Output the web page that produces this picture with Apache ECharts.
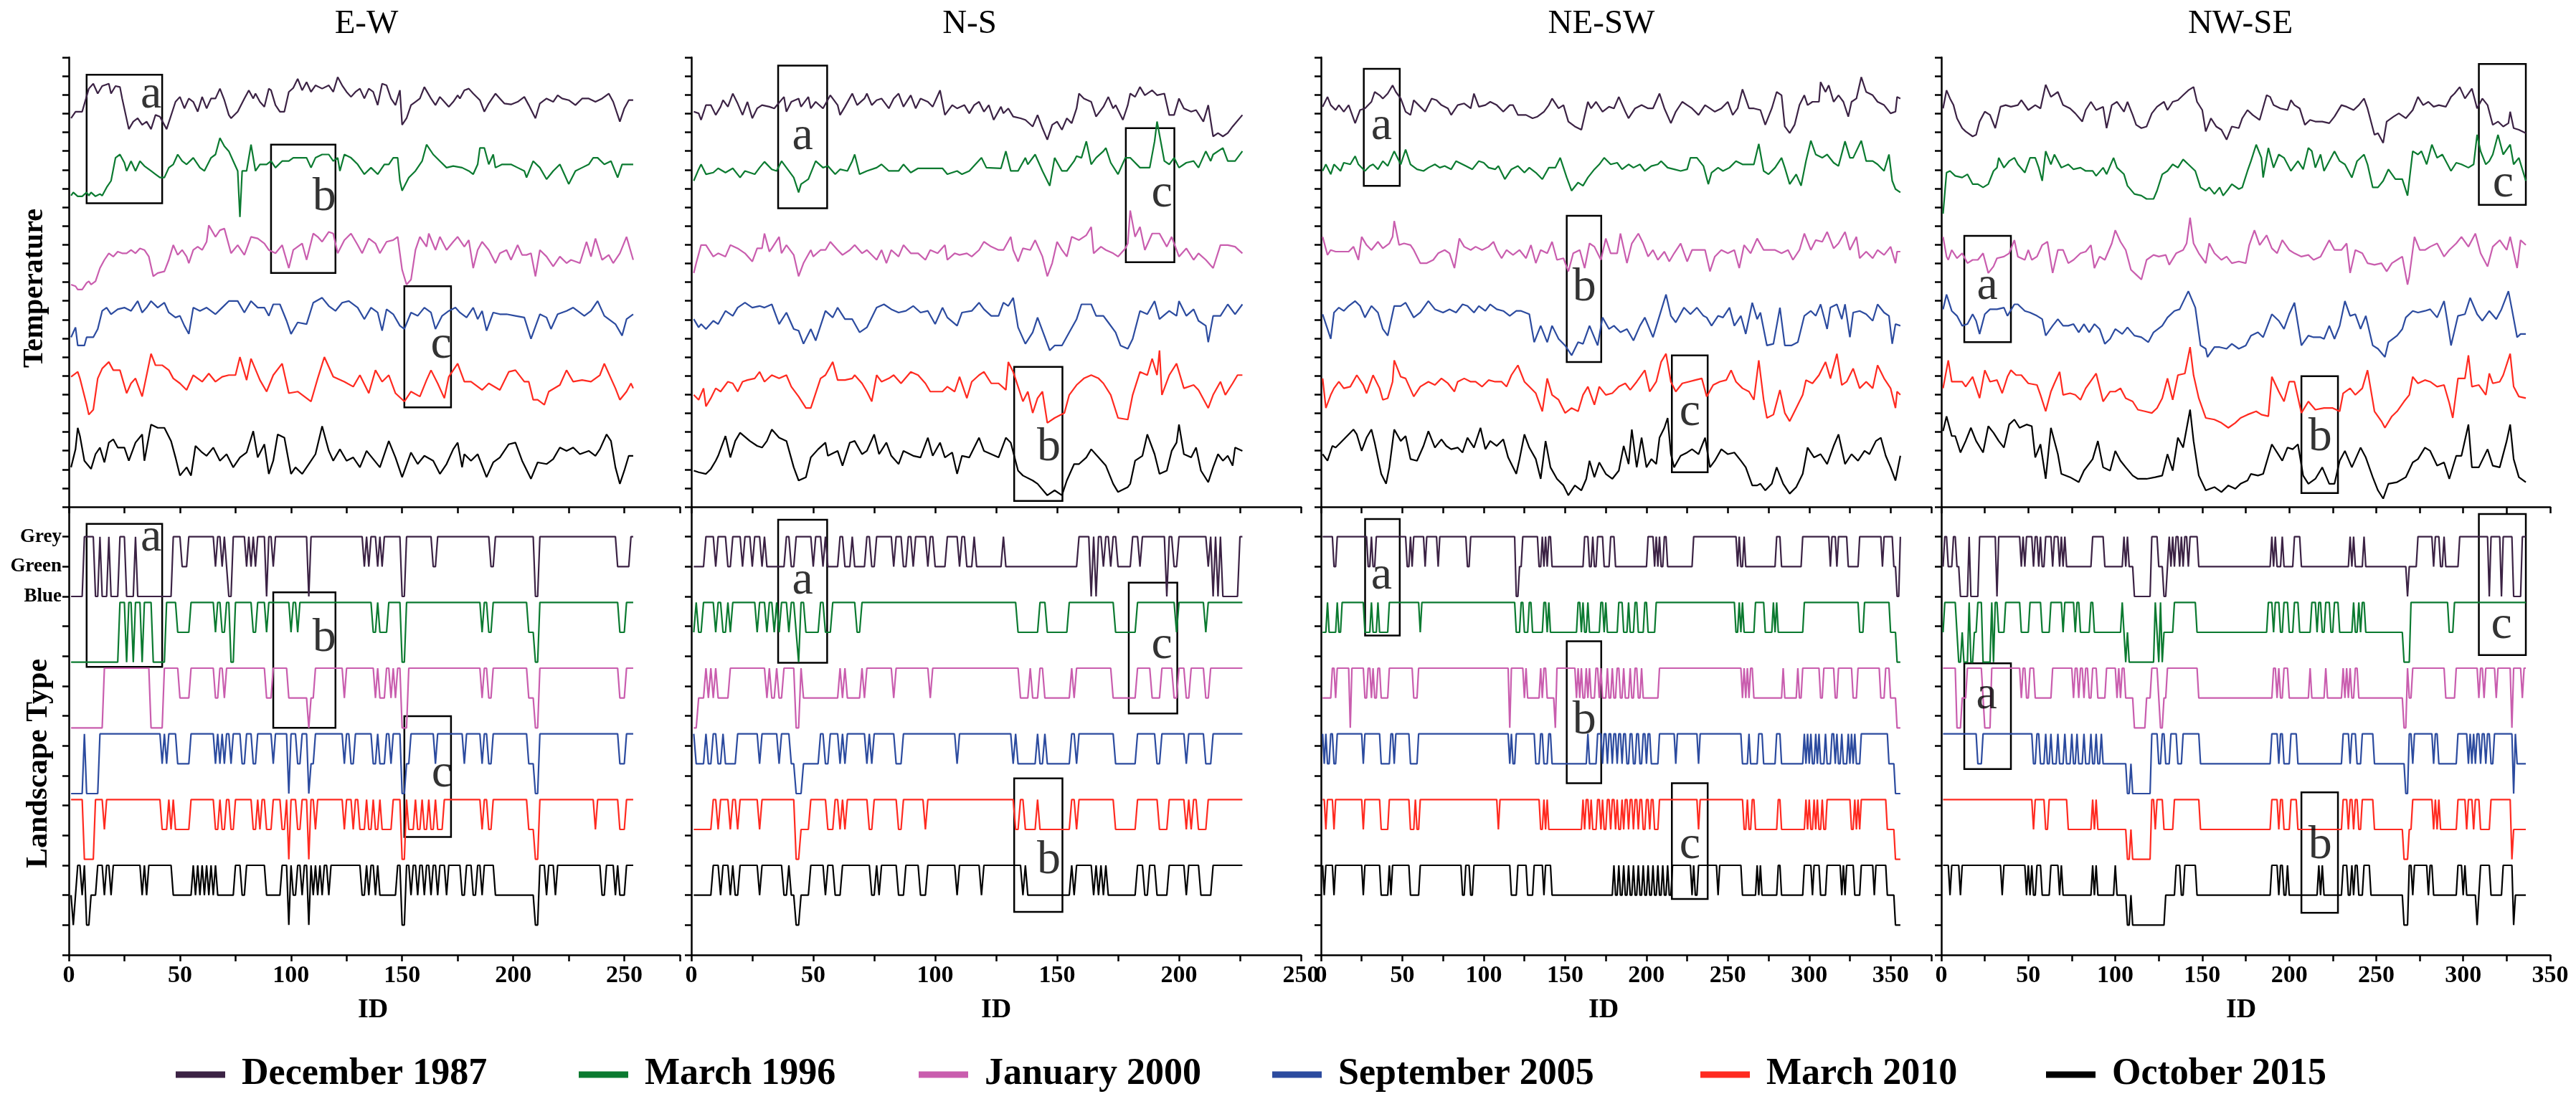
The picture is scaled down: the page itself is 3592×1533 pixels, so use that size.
<!DOCTYPE html>
<html>
<head>
<meta charset="utf-8">
<title>Temperature and landscape type along four transects</title>
<script src="https://cdn.jsdelivr.net/npm/echarts/dist/echarts.min.js"></script>
<style>
  html, body { margin: 0; padding: 0; background: #fff; }
  #chart { width: 3592px; height: 1533px; }
</style>
</head>
<body>
<div id="chart"></div>
<script>
var dates = ['December 1987', 'March 1996', 'January 2000', 'September 2005', 'March 2010', 'October 2015'];
var directions = ['E-W', 'N-S', 'NE-SW', 'NW-SE'];
var landTypes = ['Blue', 'Green', 'Grey'];
var idMax = [275, 250, 375, 350];
var lastId = [254, 226, 356, 336];

// temperature profiles, [ID, value] (stacked, arbitrary units)
var ewT87 = [[1,1180],[3,1200],[6,1200],[9,1270],[11,1285],[13,1255],[15,1278],[18,1285],[19,1255],[21,1278],[23,1275],[24,1240],[27,1147],[29,1170],[31,1180],[33,1160],[35,1170],[37,1147],[39,1190],[41,1185],[44,1147],[48,1230],[50,1245],[52,1210],[54,1240],[56,1230],[58,1200],[60,1245],[62,1210],[64,1240],[66,1240],[68,1270],[70,1235],[72,1190],[73,1180],[76,1200],[79,1240],[81,1265],[83,1240],[84,1255],[86,1230],[88,1215],[90,1270],[91,1265],[93,1220],[95,1200],[97,1200],[99,1260],[101,1272],[103,1300],[105,1265],[107,1290],[109,1260],[111,1280],[114,1270],[117,1280],[119,1260],[121,1305],[123,1280],[125,1260],[127,1245],[129,1260],[131,1270],[133,1240],[135,1270],[137,1260],[139,1220],[141,1285],[143,1280],[145,1240],[147,1220],[149,1265],[150,1160],[152,1180],[154,1220],[156,1230],[158,1240],[160,1275],[163,1240],[165,1220],[167,1245],[169,1230],[171,1215],[173,1230],[175,1250],[176,1240],[178,1265],[180,1270],[182,1255],[185,1235],[187,1200],[189,1225],[192,1255],[194,1240],[196,1225],[199,1222],[202,1230],[205,1245],[207,1220],[210,1180],[212,1225],[215,1240],[218,1230],[220,1250],[222,1240],[225,1235],[228,1220],[231,1240],[234,1240],[237,1230],[240,1240],[243,1255],[245,1230],[248,1170],[250,1210],[252,1235],[254,1235]];
var ewT96 = [[1,945],[2,955],[4,943],[6,943],[8,955],[9,945],[10,955],[12,943],[14,950],[15,945],[17,970],[19,990],[21,1060],[23,1070],[25,1045],[26,1020],[28,1050],[30,1020],[32,1050],[34,1035],[37,1020],[39,1010],[41,1000],[43,1000],[45,1030],[47,1040],[49,1070],[51,1050],[53,1040],[56,1060],[59,1030],[61,1020],[64,1060],[66,1070],[68,1120],[70,1095],[72,1080],[74,1050],[76,1020],[77,880],[78,1020],[80,1020],[82,1100],[84,1020],[86,1040],[89,1040],[91,1050],[93,1030],[96,1050],[99,1050],[101,1060],[103,1060],[107,1060],[109,1030],[111,1060],[114,1070],[117,1070],[119,1050],[121,1060],[122,1020],[124,1070],[127,1060],[130,1040],[133,1010],[136,1030],[139,1010],[142,1040],[144,1040],[146,1060],[148,1060],[149,990],[150,960],[153,1000],[156,1020],[159,1050],[161,1100],[164,1070],[167,1050],[170,1030],[173,1035],[177,1030],[180,1020],[182,1010],[184,1040],[185,1090],[187,1090],[189,1040],[191,1070],[192,1030],[195,1040],[199,1040],[202,1030],[205,1020],[206,1000],[209,1050],[212,1030],[215,995],[218,1020],[221,1040],[223,1010],[225,980],[228,1020],[231,1030],[234,1040],[236,1060],[238,1060],[241,1040],[244,1050],[247,1000],[249,1040],[251,1040],[254,1040]];
var ewT00 = [[1,675],[3,670],[4,660],[6,660],[8,680],[9,685],[10,675],[12,685],[14,725],[16,750],[18,770],[20,760],[22,775],[24,770],[26,770],[28,780],[30,770],[32,785],[34,780],[36,760],[38,700],[40,710],[43,715],[45,750],[47,795],[49,765],[51,780],[53,760],[54,740],[56,780],[58,790],[60,780],[62,805],[63,855],[66,820],[68,840],[70,845],[73,770],[76,795],[79,765],[82,820],[85,815],[88,800],[90,780],[93,770],[96,795],[99,725],[101,780],[105,800],[107,750],[110,830],[112,820],[114,805],[117,835],[119,830],[121,770],[124,810],[127,830],[130,795],[132,770],[135,815],[138,800],[140,770],[143,805],[146,810],[148,820],[150,720],[152,675],[154,690],[156,780],[158,820],[161,790],[162,830],[165,780],[167,820],[170,780],[173,805],[175,820],[178,790],[180,810],[182,725],[184,780],[186,805],[189,780],[192,740],[194,770],[197,780],[199,750],[202,795],[204,765],[206,765],[208,770],[210,700],[212,780],[215,760],[218,730],[221,760],[224,740],[226,750],[228,745],[230,740],[233,805],[235,760],[237,815],[240,750],[243,765],[245,740],[248,770],[251,820],[254,750]];
var ewT05 = [[1,515],[3,545],[4,490],[7,490],[8,515],[11,515],[13,540],[15,595],[17,605],[19,585],[22,600],[25,605],[28,595],[31,625],[33,590],[35,605],[37,625],[40,605],[43,620],[45,590],[48,575],[50,580],[52,550],[54,525],[56,605],[59,595],[62,605],[66,585],[69,605],[72,625],[76,625],[79,590],[82,625],[85,605],[88,605],[90,580],[92,615],[95,615],[98,565],[100,525],[103,560],[107,555],[110,620],[114,635],[117,610],[120,595],[123,620],[126,625],[130,605],[133,570],[136,605],[139,590],[141,535],[143,600],[146,585],[149,550],[151,540],[154,590],[157,580],[160,605],[163,590],[165,540],[168,580],[171,595],[174,605],[176,590],[179,575],[182,605],[184,570],[186,595],[188,535],[191,590],[194,585],[197,585],[201,580],[205,575],[208,510],[212,585],[215,575],[217,540],[220,585],[224,595],[227,605],[232,580],[235,595],[238,625],[241,580],[246,555],[249,520],[251,570],[254,585]];
var ewT10 = [[1,395],[4,410],[5,390],[8,310],[9,280],[11,295],[13,390],[15,420],[18,440],[20,415],[23,415],[26,345],[28,375],[30,390],[33,335],[37,465],[39,430],[42,430],[45,415],[47,390],[50,375],[53,355],[56,400],[60,380],[63,405],[66,380],[69,395],[72,400],[75,400],[77,455],[80,385],[82,450],[86,385],[89,350],[92,400],[96,435],[99,345],[103,350],[109,320],[112,390],[115,455],[119,395],[124,380],[128,365],[131,400],[135,345],[138,415],[141,380],[144,400],[147,345],[151,320],[154,350],[158,335],[161,385],[163,415],[166,375],[169,330],[171,395],[175,435],[178,380],[181,380],[186,355],[189,375],[194,355],[198,410],[201,415],[205,380],[207,380],[209,325],[211,325],[214,310],[216,350],[221,370],[224,415],[227,380],[231,385],[235,380],[239,400],[241,435],[246,360],[248,325],[251,350],[253,375],[254,360]];
var ewT15 = [[1,120],[3,175],[4,240],[5,215],[7,140],[10,115],[12,160],[14,180],[16,135],[18,195],[20,205],[22,180],[25,180],[27,140],[30,195],[33,220],[34,140],[37,250],[40,240],[43,240],[46,200],[48,150],[50,95],[53,120],[55,95],[57,185],[60,165],[62,155],[65,180],[68,140],[71,160],[74,120],[77,150],[80,165],[83,230],[85,150],[88,190],[90,100],[92,140],[94,220],[97,210],[100,100],[102,120],[105,100],[108,130],[111,160],[114,245],[117,170],[119,140],[122,175],[125,140],[128,150],[131,120],[134,170],[137,145],[140,120],[144,200],[147,150],[150,90],[154,165],[157,130],[160,155],[164,140],[167,100],[170,130],[173,175],[175,195],[177,120],[178,160],[181,140],[184,160],[188,90],[191,135],[194,150],[198,190],[201,195],[204,140],[208,85],[211,135],[215,130],[218,145],[221,180],[224,170],[227,180],[230,160],[234,170],[237,155],[239,175],[242,220],[244,200],[246,120],[248,70],[250,110],[252,155],[254,155]];

var nsT87 = [[1,1200],[3,1195],[4,1175],[6,1220],[8,1220],[10,1190],[12,1215],[13,1235],[15,1215],[17,1255],[19,1225],[21,1190],[23,1230],[25,1180],[27,1210],[29,1220],[32,1215],[34,1210],[38,1245],[39,1200],[41,1230],[44,1240],[45,1215],[48,1245],[49,1210],[51,1230],[54,1210],[57,1250],[60,1220],[61,1190],[63,1215],[66,1255],[68,1220],[71,1240],[72,1255],[74,1220],[76,1235],[78,1240],[81,1210],[83,1240],[85,1255],[87,1215],[90,1250],[92,1210],[94,1240],[97,1230],[99,1215],[102,1265],[104,1190],[107,1220],[109,1210],[112,1220],[114,1195],[116,1220],[118,1230],[120,1200],[122,1220],[124,1175],[127,1215],[128,1195],[130,1210],[132,1185],[135,1180],[137,1175],[140,1155],[142,1190],[144,1150],[146,1115],[148,1160],[150,1170],[152,1145],[154,1180],[156,1165],[158,1210],[159,1255],[161,1240],[164,1230],[166,1185],[169,1215],[171,1245],[173,1210],[174,1220],[177,1175],[179,1220],[180,1255],[182,1245],[184,1275],[186,1250],[189,1265],[191,1250],[194,1255],[196,1190],[198,1190],[200,1240],[202,1210],[205,1200],[207,1205],[210,1170],[212,1220],[214,1125],[216,1135],[218,1125],[220,1135],[222,1155],[226,1190]];
var nsT96 = [[1,990],[3,1025],[4,1040],[6,1010],[9,1015],[11,1028],[14,1015],[17,1028],[20,1000],[22,1020],[26,1010],[28,1030],[30,1048],[33,1025],[35,1020],[37,1050],[39,1030],[42,1000],[44,955],[45,980],[48,995],[51,1050],[54,1030],[56,1035],[59,1010],[61,1025],[64,1020],[66,1050],[67,1070],[69,1010],[72,1020],[76,1030],[78,1040],[81,1020],[85,1020],[87,1040],[90,1015],[93,1028],[98,1028],[103,1028],[105,1010],[109,1020],[111,1010],[114,1020],[119,1060],[121,1030],[127,1028],[129,1080],[131,1020],[134,1020],[137,1060],[138,1040],[141,1070],[144,1020],[147,975],[149,1060],[152,1020],[154,1020],[157,1050],[158,1065],[160,1060],[162,1110],[164,1040],[166,1060],[169,1080],[170,1090],[172,1045],[175,1010],[178,1060],[180,1060],[184,1030],[188,1030],[190,1110],[191,1170],[194,1050],[196,1040],[198,1060],[200,1030],[203,1045],[206,1050],[208,1030],[211,1080],[213,1050],[214,1070],[218,1090],[220,1050],[223,1050],[226,1080]];
var nsT00 = [[1,710],[2,740],[4,795],[6,795],[9,760],[11,770],[14,760],[16,795],[19,785],[22,770],[25,745],[27,785],[29,785],[30,830],[32,775],[33,785],[36,820],[37,770],[39,795],[42,765],[44,700],[46,740],[49,780],[50,760],[53,780],[55,780],[57,805],[60,780],[62,765],[65,780],[67,795],[70,770],[72,780],[76,750],[78,780],[80,740],[82,780],[85,760],[87,795],[90,770],[93,770],[96,750],[98,780],[101,770],[104,795],[105,750],[108,770],[110,765],[113,770],[115,760],[118,780],[120,805],[123,790],[126,780],[128,780],[131,820],[132,780],[134,745],[136,785],[139,780],[141,810],[144,760],[146,700],[148,740],[150,805],[152,780],[154,760],[156,820],[159,810],[162,825],[164,850],[165,770],[168,790],[170,780],[173,770],[175,760],[178,785],[179,800],[180,900],[182,820],[184,850],[186,780],[189,830],[192,830],[195,790],[197,820],[200,760],[203,785],[206,750],[208,770],[211,750],[214,725],[217,795],[220,795],[223,790],[226,770]];
var nsT05 = [[1,570],[3,545],[4,555],[6,540],[9,565],[11,555],[14,595],[17,580],[19,605],[22,620],[25,605],[28,610],[30,605],[33,615],[36,555],[39,590],[42,540],[44,535],[46,495],[49,540],[51,505],[55,595],[58,575],[60,605],[63,570],[66,570],[69,530],[72,545],[76,605],[79,615],[82,600],[85,590],[88,595],[91,610],[94,590],[97,595],[100,555],[103,605],[105,575],[109,550],[111,590],[115,595],[118,620],[120,600],[123,580],[126,580],[128,620],[130,610],[132,635],[134,545],[137,495],[140,530],[142,575],[145,515],[147,475],[149,490],[152,490],[155,530],[158,570],[160,615],[164,615],[166,580],[169,580],[171,560],[174,530],[176,490],[179,480],[181,510],[184,595],[187,585],[190,625],[192,570],[196,595],[199,580],[200,625],[203,580],[206,600],[208,565],[211,550],[212,500],[214,580],[217,580],[220,615],[223,585],[226,615]];
var nsT10 = [[1,340],[3,325],[5,360],[6,305],[8,330],[10,360],[12,350],[15,380],[17,375],[19,350],[21,380],[23,385],[26,390],[28,410],[30,380],[33,400],[36,390],[39,400],[41,365],[44,335],[47,300],[49,300],[53,390],[55,400],[58,440],[60,385],[63,385],[66,390],[67,400],[70,375],[72,350],[74,320],[76,400],[78,380],[81,390],[83,400],[86,375],[90,410],[93,400],[96,375],[98,350],[103,350],[105,365],[108,350],[110,395],[113,330],[115,380],[118,400],[120,410],[123,375],[126,375],[129,355],[130,440],[132,410],[136,320],[138,350],[140,285],[142,330],[144,350],[146,255],[149,270],[153,285],[155,340],[158,370],[161,390],[164,400],[167,390],[169,375],[172,340],[175,270],[179,265],[181,340],[184,410],[187,400],[189,450],[191,400],[192,475],[193,340],[196,400],[199,435],[202,360],[206,370],[208,355],[212,300],[214,340],[217,380],[219,340],[222,375],[224,400],[226,400]];
var nsT15 = [[1,110],[3,105],[6,100],[8,115],[10,140],[11,155],[14,215],[16,150],[18,200],[20,225],[24,200],[27,185],[29,180],[31,200],[33,235],[36,210],[39,200],[42,120],[44,80],[47,90],[49,150],[52,175],[55,195],[56,155],[60,170],[62,125],[65,195],[67,200],[70,160],[72,170],[75,220],[77,160],[80,195],[82,155],[85,130],[87,170],[91,155],[94,150],[97,210],[99,155],[102,195],[104,150],[107,165],[109,100],[111,155],[114,150],[116,180],[118,210],[120,170],[123,160],[126,150],[129,210],[131,195],[134,110],[136,95],[140,80],[142,70],[146,35],[149,50],[152,35],[154,80],[157,130],[159,130],[162,150],[164,175],[167,150],[170,125],[173,70],[175,45],[179,60],[180,70],[182,140],[185,155],[187,220],[190,160],[192,100],[195,110],[197,170],[199,195],[200,250],[202,160],[205,150],[207,180],[209,110],[212,75],[214,120],[216,160],[218,140],[220,155],[222,125],[223,180],[226,170]];

var neT87 = [[1,1215],[4,1245],[6,1220],[9,1205],[11,1220],[14,1200],[17,1220],[21,1165],[24,1205],[27,1210],[31,1230],[33,1260],[36,1250],[38,1240],[41,1255],[44,1280],[46,1260],[49,1240],[52,1200],[55,1190],[57,1235],[60,1220],[64,1200],[68,1240],[71,1235],[74,1220],[78,1210],[80,1190],[84,1220],[88,1225],[92,1210],[94,1255],[97,1215],[101,1220],[104,1230],[108,1220],[112,1200],[116,1220],[118,1220],[121,1190],[126,1190],[130,1180],[133,1185],[137,1200],[140,1220],[142,1240],[146,1210],[149,1220],[152,1170],[156,1155],[160,1145],[164,1230],[166,1210],[169,1230],[173,1200],[177,1215],[180,1210],[183,1245],[187,1200],[189,1180],[193,1210],[197,1220],[201,1210],[204,1210],[208,1255],[211,1210],[215,1165],[218,1200],[222,1230],[225,1220],[228,1210],[232,1190],[236,1220],[239,1210],[242,1200],[246,1210],[250,1230],[253,1190],[256,1210],[259,1268],[263,1210],[266,1210],[270,1205],[273,1160],[277,1210],[280,1260],[283,1250],[285,1155],[288,1135],[291,1160],[294,1220],[297,1250],[299,1220],[302,1230],[306,1230],[307,1290],[310,1260],[312,1280],[315,1230],[318,1250],[321,1230],[324,1185],[326,1230],[329,1240],[332,1305],[335,1260],[339,1250],[342,1230],[346,1220],[350,1195],[353,1200],[354,1245],[356,1240]];
var neT96 = [[1,1020],[3,1040],[6,1010],[8,1040],[12,1020],[14,1045],[18,1040],[21,1065],[23,1040],[27,1020],[30,1035],[32,1040],[35,1025],[38,1050],[41,1035],[45,1080],[49,1040],[52,1085],[55,1040],[59,1025],[63,1020],[66,1030],[70,1040],[73,1030],[76,1035],[80,1025],[83,1050],[87,1040],[89,1035],[93,1025],[97,1050],[100,1045],[103,1030],[107,1025],[109,1035],[113,995],[117,1025],[121,1035],[125,1015],[128,1030],[132,1015],[136,995],[140,1030],[144,1030],[147,1060],[151,1000],[154,960],[158,985],[161,975],[164,1000],[168,1025],[171,1040],[174,1060],[178,1040],[182,1045],[185,1025],[189,1040],[192,1030],[196,1040],[199,1020],[203,1035],[207,1040],[209,1050],[213,1030],[217,1025],[221,1020],[225,1025],[227,1060],[231,1060],[235,1035],[238,980],[240,1015],[244,1030],[247,1020],[251,1030],[255,1050],[259,1040],[263,1040],[266,1040],[269,1102],[272,1020],[275,1010],[279,1030],[283,1060],[285,1030],[288,980],[292,1010],[295,975],[298,1050],[301,1112],[304,1070],[308,1060],[311,1070],[315,1045],[318,1035],[322,1110],[325,1060],[327,1060],[332,1112],[335,1050],[339,1050],[342,1040],[346,1020],[349,1070],[351,990],[353,965],[356,955]];
var neT00 = [[1,820],[4,765],[6,780],[9,775],[13,775],[17,775],[20,790],[23,750],[25,820],[28,795],[31,780],[35,805],[38,785],[42,800],[44,820],[45,868],[48,795],[51,800],[55,795],[57,780],[61,740],[65,740],[69,750],[72,770],[76,780],[79,770],[82,725],[85,815],[88,790],[92,780],[95,790],[99,780],[103,790],[106,805],[108,780],[111,755],[114,780],[118,765],[122,780],[126,755],[129,795],[132,740],[135,780],[139,770],[142,805],[145,750],[149,755],[152,715],[155,770],[159,780],[162,725],[165,800],[168,790],[172,750],[175,815],[178,770],[182,770],[184,830],[188,740],[191,800],[195,830],[198,800],[201,760],[204,780],[207,750],[211,775],[214,745],[217,770],[221,800],[225,745],[228,780],[232,780],[236,780],[239,715],[242,760],[246,780],[250,770],[254,780],[257,725],[260,795],[264,770],[268,815],[272,780],[275,780],[279,780],[283,770],[287,780],[290,750],[294,780],[297,830],[301,780],[304,810],[308,805],[311,835],[315,785],[318,800],[322,835],[325,780],[329,820],[331,755],[335,775],[339,755],[342,780],[346,765],[350,790],[353,740],[354,775],[356,775]];
var neT05 = [[1,585],[4,540],[6,510],[8,590],[11,605],[14,595],[17,610],[21,625],[24,610],[27,575],[31,610],[35,590],[38,540],[41,520],[45,610],[49,610],[52,620],[57,575],[61,590],[66,625],[70,600],[75,590],[79,600],[83,590],[87,615],[90,610],[94,590],[97,610],[101,595],[104,615],[108,600],[112,595],[116,580],[120,595],[123,595],[128,585],[131,500],[135,550],[139,500],[142,550],[146,510],[150,490],[154,460],[158,500],[161,495],[165,550],[170,490],[173,575],[177,540],[180,550],[184,530],[188,540],[192,505],[196,550],[199,575],[204,515],[208,580],[212,645],[215,580],[218,560],[223,605],[227,585],[231,605],[235,580],[237,575],[240,550],[244,580],[247,575],[251,605],[254,550],[258,580],[261,525],[265,620],[268,570],[270,590],[274,490],[278,495],[282,605],[285,490],[289,490],[293,500],[297,580],[301,595],[304,580],[307,615],[311,540],[313,605],[317,615],[320,570],[322,615],[325,515],[327,590],[331,595],[335,585],[339,565],[342,615],[346,590],[349,580],[351,495],[353,555],[356,550]];
var neT10 = [[1,390],[3,300],[6,340],[8,360],[11,380],[14,360],[18,365],[22,400],[26,370],[28,345],[32,400],[36,360],[38,325],[41,330],[44,380],[45,445],[49,395],[52,390],[57,335],[61,365],[66,380],[70,370],[74,390],[78,375],[82,350],[84,380],[88,390],[92,380],[95,380],[99,365],[103,385],[107,380],[111,380],[114,365],[117,400],[121,430],[125,380],[128,365],[132,345],[136,290],[139,390],[142,340],[146,325],[150,285],[154,300],[158,290],[161,340],[164,365],[168,310],[171,365],[175,340],[179,345],[183,365],[187,375],[190,355],[194,380],[199,415],[202,350],[206,380],[209,440],[212,465],[215,380],[218,350],[222,375],[226,380],[230,385],[234,390],[237,335],[241,370],[245,380],[249,385],[252,415],[255,380],[259,360],[263,350],[266,325],[269,445],[272,325],[274,270],[278,280],[282,355],[285,285],[288,260],[292,300],[296,340],[298,385],[302,375],[306,400],[310,440],[313,390],[317,465],[320,370],[323,380],[327,420],[331,360],[335,380],[339,360],[342,430],[346,390],[350,360],[353,300],[354,350],[356,340]];
var neT15 = [[1,160],[4,140],[7,185],[9,180],[12,195],[16,215],[20,235],[22,220],[25,170],[28,210],[31,235],[33,195],[37,100],[40,70],[42,120],[45,235],[49,200],[52,215],[55,145],[59,140],[63,185],[66,230],[70,180],[74,205],[77,185],[80,175],[84,180],[87,165],[90,210],[94,180],[98,240],[101,175],[104,200],[108,185],[112,205],[115,150],[120,100],[122,145],[125,220],[128,180],[132,145],[135,85],[138,200],[141,120],[145,85],[149,65],[152,35],[156,65],[160,50],[163,85],[165,140],[168,90],[171,135],[175,100],[179,85],[183,110],[186,185],[189,130],[191,235],[194,120],[197,210],[200,120],[203,145],[206,130],[208,210],[211,240],[213,270],[215,160],[217,120],[221,155],[225,165],[228,175],[232,160],[236,210],[239,120],[242,140],[246,175],[250,160],[254,165],[258,140],[261,120],[265,65],[268,65],[270,70],[273,50],[277,70],[280,120],[284,70],[288,40],[292,60],[296,100],[299,180],[303,150],[307,160],[311,130],[315,185],[318,220],[322,130],[326,160],[330,140],[334,170],[337,160],[341,200],[344,210],[347,155],[350,120],[353,80],[356,155]];

var nwT87 = [[1,1210],[3,1265],[5,1240],[7,1220],[9,1180],[12,1150],[14,1140],[18,1125],[20,1130],[22,1170],[25,1200],[28,1190],[31,1150],[34,1215],[37,1220],[40,1215],[44,1220],[46,1235],[50,1205],[54,1220],[57,1210],[60,1282],[63,1245],[67,1260],[70,1220],[74,1210],[77,1195],[81,1170],[83,1205],[86,1230],[89,1205],[93,1215],[95,1150],[98,1220],[101,1230],[105,1200],[107,1230],[110,1190],[112,1160],[115,1150],[118,1155],[121,1195],[124,1215],[128,1230],[130,1205],[133,1230],[136,1235],[139,1250],[142,1265],[145,1275],[147,1230],[150,1205],[152,1140],[155,1180],[158,1155],[161,1145],[164,1115],[167,1155],[171,1150],[173,1180],[176,1205],[179,1190],[183,1175],[187,1250],[189,1245],[191,1220],[195,1210],[199,1205],[201,1235],[203,1220],[206,1210],[209,1160],[212,1175],[215,1170],[219,1170],[223,1165],[226,1185],[230,1220],[233,1215],[237,1205],[240,1220],[243,1240],[245,1210],[249,1130],[251,1135],[254,1105],[256,1170],[260,1185],[263,1195],[267,1180],[271,1205],[274,1245],[277,1220],[280,1230],[283,1215],[286,1220],[290,1215],[293,1245],[295,1255],[298,1275],[301,1240],[303,1255],[305,1270],[308,1210],[311,1240],[314,1220],[317,1160],[320,1170],[323,1155],[326,1165],[327,1200],[329,1150],[332,1145],[336,1135]];
var nwT96 = [[1,890],[3,1015],[5,1020],[8,1005],[12,1000],[15,1010],[18,980],[21,980],[24,970],[27,980],[30,1020],[32,1030],[33,1060],[36,1030],[39,1050],[42,1060],[44,1040],[48,1015],[51,1060],[54,1060],[56,1030],[58,990],[60,1080],[63,1040],[65,1070],[69,1030],[73,1040],[76,1025],[80,1030],[83,1020],[87,1020],[89,1005],[93,1030],[95,1010],[99,1060],[101,1030],[105,1010],[107,975],[111,950],[115,945],[118,935],[122,935],[124,960],[127,1010],[130,1020],[133,1040],[136,1030],[139,1055],[142,1040],[146,1020],[149,970],[152,960],[154,970],[157,950],[160,970],[162,945],[165,965],[167,980],[171,965],[173,970],[176,1020],[178,1050],[181,1100],[184,1060],[185,1000],[188,1090],[191,1030],[194,1070],[197,1060],[201,1020],[205,1050],[208,1025],[211,1090],[213,1080],[215,1030],[218,1070],[220,1020],[223,1050],[226,1080],[229,1050],[232,1040],[236,1000],[239,1050],[243,1070],[245,1040],[248,970],[251,970],[254,990],[257,1025],[261,995],[265,995],[268,945],[271,1080],[274,1070],[276,1080],[279,1040],[282,1100],[285,1060],[288,1070],[291,1040],[293,1020],[296,1045],[299,1040],[303,1030],[306,1040],[308,1130],[310,1080],[313,1040],[315,1050],[317,1070],[320,1130],[323,1070],[327,1100],[329,1040],[332,1060],[336,990]];
var nwT00 = [[1,820],[3,760],[4,750],[6,780],[9,755],[12,770],[15,740],[18,750],[21,750],[24,770],[27,710],[30,730],[32,755],[36,760],[39,770],[42,810],[44,760],[48,750],[50,780],[52,750],[55,760],[58,795],[61,805],[64,710],[67,780],[70,780],[73,740],[76,750],[80,770],[83,775],[86,795],[88,725],[91,760],[94,750],[98,800],[100,840],[103,805],[106,780],[109,720],[112,705],[115,690],[118,750],[122,765],[125,760],[129,765],[131,735],[135,770],[139,780],[141,800],[143,878],[145,800],[148,770],[152,740],[154,800],[157,770],[161,750],[164,760],[167,740],[171,745],[175,740],[177,795],[180,840],[183,795],[187,825],[190,785],[193,770],[196,810],[200,780],[203,770],[207,760],[211,765],[214,750],[218,760],[220,780],[223,810],[226,780],[230,780],[233,800],[235,710],[238,780],[242,770],[245,740],[249,735],[253,740],[256,715],[259,740],[262,750],[265,760],[268,675],[269,700],[272,820],[275,780],[278,780],[281,790],[285,800],[289,760],[292,780],[296,800],[299,820],[303,790],[307,830],[310,770],[314,730],[317,790],[321,810],[325,780],[327,820],[331,725],[333,810],[336,795]];
var nwT05 = [[1,600],[3,645],[6,595],[9,580],[12,550],[15,555],[18,585],[20,565],[22,525],[25,585],[28,600],[32,600],[36,605],[38,580],[42,615],[44,615],[48,595],[51,590],[55,580],[58,570],[60,520],[64,550],[67,570],[70,550],[73,550],[76,555],[79,530],[82,555],[85,530],[88,555],[91,540],[94,495],[97,510],[100,540],[104,525],[107,545],[111,520],[115,515],[119,500],[122,530],[127,550],[130,575],[134,595],[137,600],[142,655],[146,605],[149,490],[152,480],[153,455],[157,485],[160,485],[164,480],[167,495],[171,480],[175,490],[178,520],[182,530],[185,515],[190,585],[194,565],[197,540],[200,585],[203,620],[207,490],[211,520],[214,515],[218,515],[220,510],[223,550],[226,510],[229,550],[232,625],[235,580],[238,585],[241,540],[244,580],[248,490],[251,480],[255,455],[257,500],[262,520],[265,540],[267,575],[271,595],[274,590],[278,595],[281,600],[285,575],[289,625],[291,560],[293,490],[297,580],[301,585],[304,635],[308,585],[311,565],[315,595],[319,570],[322,600],[326,655],[328,600],[331,515],[333,525],[336,525]];
var nwT10 = [[1,360],[4,445],[6,380],[8,380],[12,380],[14,365],[18,395],[22,330],[25,415],[28,380],[32,385],[35,345],[38,395],[40,415],[43,400],[46,400],[50,375],[55,370],[57,340],[60,290],[63,350],[65,375],[68,410],[70,340],[74,345],[77,340],[80,325],[83,360],[87,390],[89,405],[93,320],[97,350],[100,350],[103,360],[106,330],[110,320],[113,295],[117,290],[121,285],[124,300],[127,330],[130,390],[133,325],[136,400],[140,405],[143,485],[145,400],[148,330],[152,270],[157,265],[161,255],[165,240],[169,255],[172,270],[176,280],[181,290],[184,280],[188,275],[190,395],[194,350],[197,320],[200,380],[203,380],[207,285],[211,320],[215,295],[220,300],[225,300],[229,290],[231,345],[235,360],[238,340],[242,360],[245,415],[249,290],[253,260],[255,240],[259,275],[262,290],[266,320],[269,340],[271,395],[274,375],[278,385],[281,380],[285,365],[289,370],[292,315],[294,270],[297,390],[301,390],[303,460],[305,365],[309,370],[313,340],[315,405],[317,375],[321,380],[323,400],[327,465],[329,365],[332,335],[336,330]];
var nwT15 = [[1,230],[3,275],[6,215],[8,215],[11,165],[14,200],[17,240],[20,200],[24,165],[27,245],[30,225],[33,200],[36,180],[39,250],[42,265],[45,240],[49,250],[52,245],[54,150],[57,190],[60,85],[63,240],[67,160],[69,100],[74,90],[79,75],[82,110],[87,145],[90,200],[93,120],[97,110],[100,170],[103,140],[106,120],[110,95],[113,85],[118,85],[123,90],[127,95],[130,160],[133,110],[136,210],[139,180],[143,295],[145,200],[148,95],[152,50],[157,60],[161,45],[165,65],[169,55],[172,70],[176,80],[178,100],[182,95],[185,100],[190,190],[193,165],[196,140],[199,180],[202,175],[205,190],[208,95],[211,70],[215,85],[219,120],[223,70],[226,70],[229,140],[232,170],[236,120],[241,180],[244,150],[248,90],[251,50],[254,25],[257,70],[262,75],[267,90],[271,135],[274,145],[278,180],[281,170],[285,125],[289,135],[292,85],[296,155],[299,155],[303,250],[305,120],[309,120],[314,175],[317,125],[321,120],[325,200],[327,250],[329,145],[332,90],[336,75]];

// landscape type runs, [first ID, type] with type 0 = Blue, 1 = Green, 2 = Grey
var ewL87 = [[0,0],[7,2],[12,0],[14,2],[15,0],[18,2],[19,0],[23,2],[26,0],[30,2],[31,0],[47,2],[51,1],[54,2],[66,1],[67,2],[69,1],[70,2],[71,1],[72,0],[74,2],[80,1],[81,2],[82,1],[83,2],[84,1],[85,2],[89,0],[90,2],[92,1],[93,2],[108,0],[109,2],[133,1],[134,2],[135,1],[136,2],[139,1],[140,2],[141,1],[142,2],[150,0],[152,2],[164,1],[166,2],[190,1],[192,2],[210,0],[212,2],[247,1],[253,2]];
var ewL96 = [[0,0],[23,2],[26,0],[27,2],[29,0],[30,2],[33,0],[34,2],[38,0],[44,2],[49,1],[55,2],[66,1],[67,2],[69,1],[71,2],[73,0],[75,2],[83,1],[85,2],[89,1],[90,2],[100,1],[101,2],[103,1],[104,2],[137,1],[139,2],[140,1],[144,2],[150,0],[152,2],[186,1],[187,2],[189,1],[191,2],[207,1],[210,0],[212,2],[248,1],[251,2]];
var ewL00 = [[0,0],[16,2],[37,0],[43,2],[50,1],[55,2],[66,1],[68,2],[70,1],[71,2],[89,1],[92,2],[99,1],[108,0],[109,1],[111,2],[124,1],[125,2],[138,1],[139,2],[140,1],[143,2],[145,1],[146,2],[147,1],[148,2],[150,0],[153,2],[186,1],[187,2],[189,1],[191,2],[207,1],[210,0],[212,2],[248,1],[251,2]];
var ewL05 = [[0,0],[7,2],[8,0],[14,2],[42,1],[43,2],[44,1],[45,2],[49,1],[55,2],[66,1],[67,2],[68,1],[69,2],[70,1],[71,2],[73,1],[74,2],[78,1],[80,2],[83,1],[85,2],[92,1],[93,2],[99,0],[100,2],[103,1],[105,2],[108,0],[109,1],[111,2],[124,1],[125,2],[127,1],[129,2],[137,1],[139,2],[140,1],[143,2],[145,1],[146,2],[150,0],[152,1],[154,2],[165,1],[166,2],[178,1],[179,2],[186,1],[187,2],[189,1],[191,2],[207,1],[210,0],[212,2],[248,1],[251,2]];
var ewL10 = [[0,2],[7,0],[12,2],[16,1],[17,2],[42,1],[45,2],[46,1],[47,2],[48,1],[55,2],[66,1],[68,2],[69,1],[71,2],[73,1],[75,2],[83,1],[85,2],[86,1],[87,2],[89,1],[92,2],[96,1],[98,2],[99,0],[100,2],[103,1],[105,2],[108,0],[109,2],[111,1],[112,2],[124,1],[125,2],[128,1],[129,2],[131,1],[134,2],[135,1],[137,2],[138,1],[140,2],[141,1],[146,2],[150,0],[152,2],[153,1],[156,2],[157,1],[159,2],[160,1],[162,2],[163,1],[165,2],[166,1],[169,2],[186,1],[187,2],[189,1],[191,2],[207,1],[210,0],[212,2],[237,1],[238,2],[248,1],[251,2]];
var ewL15 = [[0,1],[2,0],[3,1],[4,2],[6,1],[7,2],[8,0],[10,1],[13,2],[16,1],[17,2],[19,1],[20,2],[33,1],[34,2],[35,1],[36,2],[47,1],[56,2],[57,1],[58,2],[59,1],[60,2],[61,1],[62,2],[63,1],[64,2],[65,1],[66,2],[67,1],[75,2],[78,1],[80,2],[89,1],[96,2],[99,0],[100,2],[101,1],[103,2],[105,1],[106,2],[108,0],[109,2],[110,1],[111,2],[112,1],[113,2],[114,1],[115,2],[117,1],[118,2],[132,1],[134,2],[135,1],[136,2],[138,1],[139,2],[140,1],[148,2],[150,0],[152,2],[154,1],[155,2],[157,1],[158,2],[160,1],[161,2],[163,1],[164,2],[166,1],[167,2],[170,1],[171,2],[177,1],[179,2],[182,1],[184,2],[186,1],[187,2],[192,1],[210,0],[212,2],[215,1],[216,2],[219,1],[220,2],[240,1],[242,2],[246,1],[247,2],[248,1],[251,2]];

var nsL87 = [[0,1],[6,2],[10,1],[11,2],[15,1],[17,2],[21,1],[22,2],[25,1],[26,2],[29,1],[30,2],[31,1],[39,2],[41,1],[43,2],[50,1],[51,2],[54,1],[55,2],[56,1],[61,2],[63,1],[66,2],[67,1],[72,2],[74,1],[76,2],[83,1],[84,2],[87,1],[89,2],[91,1],[92,2],[97,1],[98,2],[100,1],[105,2],[110,1],[111,2],[113,1],[116,2],[117,1],[128,2],[129,1],[159,2],[164,0],[165,2],[166,0],[167,2],[169,1],[170,2],[172,1],[173,2],[175,1],[181,2],[184,1],[185,2],[195,0],[196,2],[198,1],[200,2],[212,1],[213,2],[214,0],[215,2],[216,0],[217,2],[218,0],[225,2]];
var nsL96 = [[0,1],[2,2],[3,1],[5,2],[10,1],[11,2],[13,1],[15,2],[16,1],[17,2],[27,1],[28,2],[31,1],[32,2],[34,1],[35,2],[36,1],[37,2],[40,1],[41,2],[43,1],[44,0],[45,2],[47,1],[53,2],[55,1],[58,2],[68,1],[70,2],[134,1],[143,2],[146,1],[155,2],[174,1],[183,2],[199,1],[200,2],[211,1],[212,2]];
var nsL00 = [[0,0],[3,1],[6,2],[7,1],[8,2],[9,1],[10,2],[11,1],[16,2],[31,1],[32,2],[33,1],[35,2],[36,1],[38,2],[43,0],[45,2],[46,1],[61,2],[62,1],[63,2],[64,1],[70,2],[71,1],[72,2],[83,1],[84,2],[98,1],[99,2],[135,1],[139,2],[140,1],[143,2],[145,1],[156,2],[157,1],[158,2],[173,1],[183,2],[189,1],[193,2],[198,1],[200,2],[203,1],[205,2],[211,1],[213,2]];
var nsL05 = [[0,2],[2,1],[6,2],[7,1],[9,2],[11,1],[13,2],[14,1],[19,2],[28,1],[29,2],[36,1],[37,2],[41,1],[43,0],[46,1],[53,2],[55,1],[57,2],[61,1],[62,2],[63,1],[64,2],[72,1],[73,2],[74,1],[75,2],[84,1],[87,2],[109,1],[110,2],[132,1],[133,2],[134,1],[142,2],[143,1],[145,2],[146,1],[156,2],[158,1],[159,2],[174,1],[183,2],[191,1],[193,2],[203,1],[204,2],[211,1],[214,2]];
var nsL10 = [[0,1],[9,2],[11,1],[12,2],[16,1],[17,2],[19,1],[20,2],[28,1],[29,2],[43,0],[45,1],[49,2],[56,1],[59,2],[61,1],[62,2],[63,1],[64,2],[73,1],[75,2],[85,1],[87,2],[96,1],[97,2],[133,1],[135,2],[137,1],[142,2],[143,1],[156,2],[158,1],[159,2],[174,1],[183,2],[192,1],[196,2],[203,1],[204,2],[205,1],[206,2],[208,1],[212,2]];
var nsL15 = [[0,1],[9,2],[12,1],[13,2],[16,1],[17,2],[18,1],[20,2],[28,1],[29,2],[38,1],[40,2],[41,1],[43,0],[45,1],[49,2],[55,1],[56,2],[59,1],[62,2],[74,1],[76,2],[77,1],[78,2],[85,1],[88,2],[94,1],[97,2],[109,1],[110,2],[119,1],[120,2],[136,1],[137,2],[138,1],[156,2],[157,1],[158,2],[165,1],[166,2],[167,1],[168,2],[169,1],[170,2],[171,1],[183,2],[186,1],[188,2],[191,1],[196,2],[203,1],[204,2],[209,1],[214,2]];

var neL87 = [[0,2],[8,1],[10,2],[29,1],[31,2],[32,1],[34,2],[53,1],[55,2],[56,1],[57,2],[64,1],[65,2],[72,1],[73,2],[90,1],[92,2],[120,0],[122,1],[124,2],[134,1],[136,2],[137,1],[138,2],[139,1],[140,2],[142,1],[162,2],[165,1],[167,2],[168,1],[170,2],[174,1],[178,2],[181,1],[201,2],[205,1],[206,2],[207,1],[208,2],[209,1],[211,2],[213,1],[229,2],[256,1],[257,2],[258,1],[260,2],[261,1],[280,2],[283,1],[296,2],[313,1],[314,2],[317,1],[318,2],[324,1],[331,2],[345,1],[346,2],[352,1],[354,0],[356,2]];
var neL96 = [[0,1],[4,2],[5,1],[10,2],[11,1],[13,2],[27,1],[31,2],[32,1],[35,2],[36,1],[42,2],[61,1],[62,2],[120,1],[123,2],[125,1],[128,2],[130,1],[137,2],[139,1],[140,2],[141,1],[158,2],[160,1],[161,2],[162,1],[164,2],[165,1],[172,2],[174,1],[175,2],[176,1],[183,2],[186,1],[189,2],[190,1],[193,2],[195,1],[199,2],[201,1],[206,2],[255,1],[257,2],[258,1],[259,2],[260,1],[267,2],[273,1],[278,2],[279,1],[280,2],[281,1],[297,2],[331,1],[334,2],[350,1],[354,0]];
var neL00 = [[0,1],[7,2],[9,1],[10,2],[18,0],[19,2],[27,1],[29,2],[31,1],[32,2],[33,1],[35,2],[37,1],[42,2],[57,1],[60,2],[116,0],[117,2],[125,1],[126,2],[127,1],[135,2],[136,1],[137,2],[139,1],[144,0],[145,2],[157,1],[158,2],[159,1],[160,2],[161,1],[163,2],[164,1],[165,2],[166,1],[169,2],[171,1],[172,2],[173,1],[176,2],[177,1],[179,2],[180,1],[182,2],[184,1],[186,2],[187,1],[190,2],[191,1],[193,2],[195,1],[197,2],[198,1],[208,2],[259,1],[260,2],[261,1],[262,2],[263,1],[264,2],[266,1],[284,2],[285,1],[293,2],[294,1],[296,2],[307,1],[309,2],[316,1],[318,2],[327,1],[330,2],[344,1],[347,2],[350,1],[354,0]];
var neL05 = [[0,2],[2,1],[3,2],[4,1],[6,2],[8,1],[10,2],[26,1],[27,2],[37,1],[43,2],[45,1],[46,2],[55,1],[60,2],[116,1],[117,2],[118,1],[120,2],[132,1],[135,2],[137,1],[140,2],[142,1],[164,2],[165,1],[170,2],[173,1],[174,2],[176,1],[177,2],[179,1],[180,2],[182,1],[183,2],[185,1],[186,2],[188,1],[190,2],[192,1],[194,2],[196,1],[198,2],[200,1],[201,2],[203,1],[208,2],[218,1],[219,2],[232,1],[233,2],[259,1],[263,2],[264,1],[269,2],[272,1],[280,2],[283,1],[297,2],[298,1],[299,2],[300,1],[301,2],[302,1],[304,2],[305,1],[306,2],[307,1],[310,2],[311,1],[314,2],[316,1],[317,2],[318,1],[320,2],[321,1],[324,2],[325,1],[326,2],[327,1],[328,2],[329,1],[332,2],[349,1],[353,0]];
var neL10 = [[0,2],[3,1],[4,2],[8,1],[9,2],[26,1],[27,2],[37,1],[42,2],[55,1],[58,2],[59,1],[61,2],[109,1],[110,2],[135,1],[137,2],[138,1],[139,2],[140,1],[161,2],[162,1],[163,2],[165,1],[166,2],[167,1],[170,2],[172,1],[173,2],[174,1],[176,2],[178,1],[179,2],[181,1],[182,2],[183,1],[185,2],[186,1],[187,2],[189,1],[190,2],[192,1],[193,2],[195,1],[196,2],[198,1],[200,2],[202,1],[203,2],[205,1],[208,2],[232,1],[233,2],[260,1],[262,2],[263,1],[265,2],[267,1],[281,2],[283,1],[298,2],[299,1],[300,2],[301,1],[303,2],[304,1],[305,2],[306,1],[308,2],[309,1],[311,2],[326,1],[328,2],[329,1],[330,2],[331,1],[332,2],[348,1],[353,0]];
var neL15 = [[0,2],[2,1],[3,2],[8,1],[9,2],[26,1],[27,2],[37,1],[42,2],[43,1],[44,2],[55,1],[61,2],[87,1],[89,2],[92,1],[94,2],[117,1],[121,2],[127,1],[131,2],[137,1],[138,2],[142,1],[180,2],[181,1],[183,2],[184,1],[186,2],[187,1],[189,2],[190,1],[192,2],[193,1],[195,2],[196,1],[198,2],[199,1],[201,2],[202,1],[204,2],[205,1],[207,2],[208,1],[210,2],[211,1],[213,2],[214,1],[216,2],[228,1],[229,2],[230,1],[232,2],[244,1],[245,2],[259,1],[268,2],[269,1],[270,2],[271,1],[281,2],[283,1],[297,2],[302,1],[303,2],[307,1],[311,2],[320,1],[321,2],[322,1],[323,2],[328,1],[332,2],[340,1],[341,2],[348,1],[353,0]];

var nwL87 = [[0,1],[2,2],[4,1],[7,2],[9,1],[11,0],[16,2],[17,0],[22,2],[32,0],[33,2],[46,1],[47,2],[48,1],[49,2],[53,1],[54,2],[56,1],[57,2],[58,1],[60,2],[64,1],[65,2],[68,1],[69,2],[70,1],[71,2],[72,1],[87,2],[94,1],[105,2],[106,1],[107,2],[108,1],[111,0],[121,2],[125,1],[128,0],[130,1],[131,2],[132,1],[133,2],[134,1],[135,2],[137,1],[138,2],[139,1],[140,2],[142,1],[143,2],[148,1],[190,2],[191,1],[192,2],[193,1],[196,2],[197,1],[203,2],[207,1],[235,2],[236,1],[237,2],[238,1],[243,2],[244,1],[268,0],[269,1],[274,2],[283,1],[284,2],[287,1],[289,2],[290,1],[298,2],[315,0],[316,2],[322,0],[323,2],[329,0],[334,2]];
var nwL96 = [[0,1],[2,2],[9,1],[10,0],[12,1],[13,0],[16,2],[17,0],[19,1],[21,2],[24,0],[29,2],[30,0],[31,2],[33,1],[37,2],[46,1],[51,2],[58,1],[63,2],[70,1],[71,2],[77,1],[78,2],[80,1],[86,2],[88,1],[104,2],[105,1],[106,0],[107,1],[108,0],[123,2],[124,1],[125,0],[126,2],[127,0],[128,1],[134,2],[147,1],[188,2],[191,1],[192,2],[195,1],[197,2],[200,1],[203,2],[206,1],[213,2],[216,1],[217,2],[219,1],[221,2],[224,1],[226,2],[229,1],[237,2],[238,1],[240,2],[241,1],[242,2],[244,1],[266,0],[270,2],[292,1],[295,2]];
var nwL00 = [[0,2],[9,0],[12,1],[15,2],[24,1],[25,0],[29,2],[46,1],[47,2],[49,1],[51,2],[54,1],[64,2],[76,1],[77,2],[79,1],[80,2],[82,1],[83,2],[85,1],[87,2],[90,1],[95,2],[101,1],[102,2],[103,1],[104,2],[106,1],[111,0],[118,1],[121,2],[125,1],[126,0],[128,1],[130,2],[148,1],[191,2],[193,1],[194,2],[195,1],[197,2],[200,1],[212,2],[213,1],[221,2],[222,1],[231,2],[232,1],[233,2],[234,1],[235,2],[236,1],[238,2],[240,1],[266,0],[268,2],[269,1],[271,2],[290,1],[296,2],[309,1],[310,2],[312,1],[313,2],[319,1],[320,2],[328,0],[329,2],[334,1],[335,2]];
var nwL05 = [[0,2],[21,1],[24,2],[53,1],[55,2],[57,1],[60,2],[61,1],[63,2],[64,1],[67,2],[68,1],[71,2],[72,1],[75,2],[76,1],[78,2],[79,1],[82,2],[83,1],[86,2],[87,1],[89,2],[90,1],[92,2],[93,1],[107,0],[109,1],[110,0],[121,2],[125,1],[127,2],[129,1],[132,2],[136,1],[139,2],[149,1],[190,2],[194,1],[195,2],[197,1],[201,2],[205,1],[231,2],[235,1],[236,2],[239,1],[242,2],[249,1],[267,0],[269,2],[271,1],[272,2],[283,1],[284,2],[286,1],[297,2],[303,1],[304,2],[305,1],[306,2],[307,1],[308,2],[310,1],[311,2],[313,1],[314,2],[316,1],[318,2],[329,0],[330,2],[331,1]];
var nwL10 = [[0,2],[53,1],[54,2],[60,1],[62,2],[73,1],[87,2],[88,1],[89,2],[90,1],[107,0],[109,1],[110,0],[121,2],[123,1],[124,2],[128,1],[134,2],[149,1],[190,2],[194,1],[195,2],[197,1],[201,2],[205,1],[231,2],[234,1],[235,2],[237,1],[238,2],[240,1],[242,2],[249,1],[266,0],[269,1],[271,2],[283,1],[284,2],[285,1],[286,2],[287,1],[297,2],[302,1],[303,2],[306,1],[307,2],[310,1],[316,2],[328,0],[329,1]];
var nwL15 = [[0,2],[5,1],[6,2],[11,1],[12,2],[35,1],[36,2],[49,1],[50,2],[51,1],[52,2],[53,1],[55,2],[58,1],[63,2],[68,1],[69,2],[70,1],[87,2],[88,1],[89,2],[90,1],[100,2],[101,1],[107,0],[109,1],[110,0],[129,1],[135,2],[138,1],[140,2],[147,1],[190,2],[194,1],[195,2],[197,1],[199,2],[200,1],[217,2],[218,1],[219,2],[220,1],[231,2],[234,1],[236,2],[237,1],[238,2],[240,1],[243,2],[247,1],[266,0],[269,2],[271,1],[272,2],[280,1],[281,2],[283,1],[297,2],[300,1],[301,2],[302,1],[308,0],[309,1],[310,2],[316,1],[323,2],[329,0],[330,1]];

// highlighted sections: [panel, ID from, ID to, low, high, letter, letter ID, letter value]
var boxes = [
  [0, 8, 42, 922, 1312, 'a', 37, 1250], [0, 91, 120, 710, 1100, 'b', 115, 940], [0, 151, 172, 302, 670, 'c', 167.6, 490],
  [1, 35.6, 55.7, 907, 1340, 'a', 45.6, 1125], [1, 178.2, 198.1, 743, 1150, 'c', 193, 950], [1, 132.4, 152.2, 18, 425, 'b', 146.6, 180],
  [2, 26.3, 48.4, 975, 1330, 'a', 37.2, 1155], [2, 151, 172.2, 440, 884, 'b', 161.8, 665], [2, 215.6, 237.6, 105, 460, 'c', 226.7, 285],
  [3, 309, 336, 917, 1345, 'c', 323, 980], [3, 13.2, 40, 500, 823, 'a', 26.4, 670], [3, 207, 228, 42, 397, 'b', 217.8, 210],
  [4, 8, 42, 9.64, 14.43, 'a', 37, 13.95], [4, 92, 120, 7.6, 12.14, 'b', 115, 10.6], [4, 151, 172, 3.95, 7.99, 'c', 168, 6.05],
  [5, 35.6, 55.7, 9.78, 14.57, 'a', 45.6, 12.5], [5, 179.4, 199.3, 8.08, 12.46, 'c', 193, 10.36], [5, 132.4, 152.2, 1.44, 5.91, 'b', 146.6, 3.16],
  [6, 27.1, 48.4, 10.69, 14.59, 'a', 37.2, 12.67], [6, 151, 172.2, 5.75, 10.5, 'b', 161.8, 7.84], [6, 215.6, 237.6, 1.87, 5.75, 'c', 226.7, 3.66],
  [7, 309, 336, 10.04, 14.76, 'c', 322, 11.02], [7, 13.2, 40, 6.22, 9.76, 'a', 26, 8.66], [7, 207, 228, 1.41, 5.44, 'b', 217.8, 3.66]
];

var temps = [
  [ewT87, ewT96, ewT00, ewT05, ewT10, ewT15],
  [nsT87, nsT96, nsT00, nsT05, nsT10, nsT15],
  [neT87, neT96, neT00, neT05, neT10, neT15],
  [nwT87, nwT96, nwT00, nwT05, nwT10, nwT15]
];
var lands = [
  [ewL87, ewL96, ewL00, ewL05, ewL10, ewL15],
  [nsL87, nsL96, nsL00, nsL05, nsL10, nsL15],
  [neL87, neL96, neL00, neL05, neL10, neL15],
  [nwL87, nwL96, nwL00, nwL05, nwL10, nwL15]
];

var colors = ['#3b2244', '#0b7a30', '#c95dae', '#2c4b9f', '#ff2a20', '#000000'];
var landBase = [12, 9.8, 7.6, 5.4, 3.2, 1.0];
var serif = "'Liberation Serif', 'DejaVu Serif', serif";
var gridLeft = [96, 964, 1842, 2707];
var gridWidth = [852, 850, 851, 849];
var tempMax = 1365;

function stepLine(runs, last, base) {
  var pts = [];
  for (var i = 0; i < runs.length; i++) {
    var s = Math.max(runs[i][0], 1);
    var e = i + 1 < runs.length ? runs[i + 1][0] - 1 : last;
    pts.push([s, base + runs[i][1]]);
    if (e > s) pts.push([e, base + runs[i][1]]);
  }
  return pts;
}

var grids = [], xAxes = [], yAxes = [], series = [];
var axisLine = { show: true, onZero: false, lineStyle: { color: '#000', width: 2.5 } };
var axisTick = { show: true, length: 9, lineStyle: { color: '#000', width: 2.5 } };

for (var row = 0; row < 2; row++) {
  for (var c = 0; c < 4; c++) {
    var g = row * 4 + c;
    grids.push({ left: gridLeft[c], width: gridWidth[c], top: row === 0 ? 80 : 707, height: row === 0 ? 627 : 625 });
    xAxes.push({
      type: 'value', gridIndex: g, min: 0, max: idMax[c], interval: 25,
      axisLine: axisLine, axisTick: axisTick, splitLine: { show: false },
      axisLabel: row === 0 ? { show: false } : {
        show: true, margin: 12, color: '#000', fontFamily: serif, fontWeight: 'bold', fontSize: 34,
        showMinLabel: true, showMaxLabel: true,
        formatter: function (v) { return v % 50 === 0 ? String(v) : ''; }
      }
    });
    yAxes.push({
      type: 'value', gridIndex: g, min: 0,
      max: row === 0 ? tempMax : 15,
      interval: row === 0 ? tempMax / 24 : 1,
      axisLine: axisLine, axisTick: axisTick, splitLine: { show: false },
      axisLabel: (row === 1 && c === 0) ? {
        show: true, margin: 10, color: '#000', fontFamily: serif, fontWeight: 'bold', fontSize: 27,
        formatter: function (v) {
          var k = Math.round(v - landBase[0]);
          return (Math.abs(v - landBase[0] - k) < 1e-6 && k >= 0 && k < 3) ? landTypes[k] : '';
        }
      } : { show: false }
    });
    for (var k = 0; k < 6; k++) {
      series.push({
        type: 'line', name: dates[k], xAxisIndex: g, yAxisIndex: g,
        data: row === 0 ? temps[c][k] : stepLine(lands[c][k], lastId[c], landBase[k]),
        symbol: 'none', showSymbol: false, z: 3,
        lineStyle: { color: colors[k], width: 2.2 },
        itemStyle: { color: colors[k] }
      });
    }
    var marks = [], areas = [];
    boxes.forEach(function (b) {
      if (b[0] !== g) return;
      areas.push([{ coord: [b[1], b[3]] }, { coord: [b[2], b[4]] }]);
      marks.push([b[6], b[7], b[5]]);
    });
    series.push({
      type: 'scatter', name: 'sections', xAxisIndex: g, yAxisIndex: g,
      data: marks, symbolSize: 1, z: 5,
      itemStyle: { color: 'rgba(0,0,0,0)' },
      label: {
        show: true, position: 'inside', color: '#000', fontFamily: serif, fontSize: 66,
        formatter: function (p) { return p.value[2]; }
      },
      markArea: {
        silent: true, label: { show: false },
        itemStyle: { color: 'rgba(0,0,0,0)', borderColor: '#000', borderWidth: 2.5 },
        data: areas
      }
    });
  }
}

var legendLeft = [240, 802, 1276, 1769, 2366, 2848];
var legends = dates.map(function (d, k) {
  return {
    left: legendLeft[k], top: 1466, icon: 'rect', itemWidth: 69, itemHeight: 9, selectedMode: false,
    data: [d],
    textStyle: { color: '#000', fontFamily: serif, fontWeight: 'bold', fontSize: 52, lineHeight: 56, padding: [0, 0, 0, 18] }
  };
});

var titleX = [511, 1352, 2233, 3124];
var idX = [520, 1389, 2236, 3125];
var texts = [];
directions.forEach(function (d, c) {
  texts.push({ type: 'text', x: titleX[c], y: 34, style: { text: d, font: '47px ' + serif, fill: '#000', align: 'center', verticalAlign: 'middle' } });
  texts.push({ type: 'text', x: idX[c], y: 1409, style: { text: 'ID', font: 'bold 38px ' + serif, fill: '#000', align: 'center', verticalAlign: 'middle' } });
});
texts.push({ type: 'text', x: 49, y: 402, rotation: Math.PI / 2, style: { text: 'Temperature', font: 'bold 40px ' + serif, fill: '#000', align: 'center', verticalAlign: 'middle' } });
texts.push({ type: 'text', x: 54, y: 1065, rotation: Math.PI / 2, style: { text: 'Landscape Type', font: 'bold 42px ' + serif, fill: '#000', align: 'center', verticalAlign: 'middle' } });

var chart = echarts.init(document.getElementById('chart'), null, { renderer: 'canvas' });
chart.setOption({
  backgroundColor: '#fff',
  animation: false,
  grid: grids,
  xAxis: xAxes,
  yAxis: yAxes,
  legend: legends,
  graphic: texts,
  series: series
});
</script>
</body>
</html>
